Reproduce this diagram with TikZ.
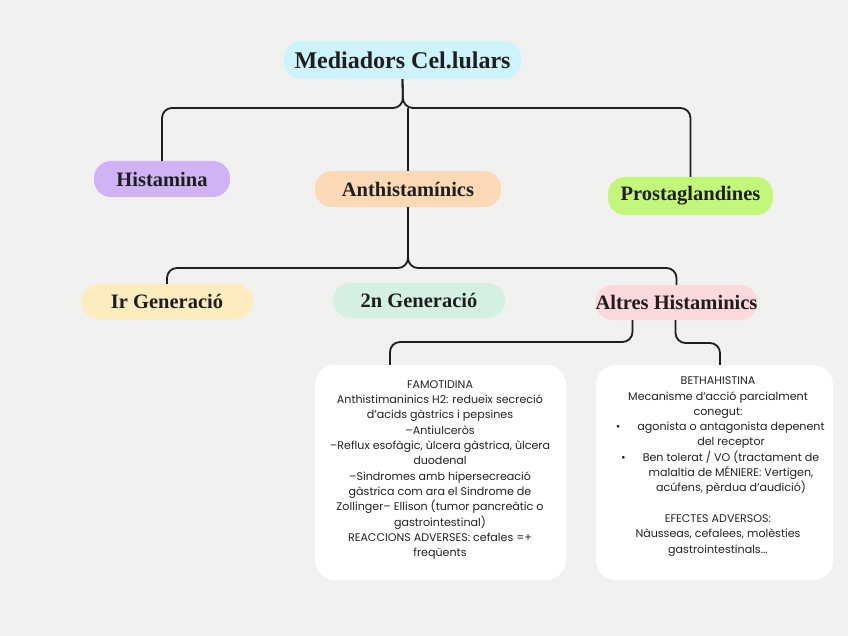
\documentclass[tikz,border=0pt]{standalone}
\usepackage{fontspec}
\setmainfont{Poppins}
\newfontfamily\headfont{Liberation Serif}
\definecolor{bg}{HTML}{F1F1F0}
\definecolor{cmed}{HTML}{CDF3FD}
\definecolor{chist}{HTML}{D0B3F5}
\definecolor{canth}{HTML}{FDD9B5}
\definecolor{cprost}{HTML}{C3F77A}
\definecolor{cir}{HTML}{FDECC0}
\definecolor{cdos}{HTML}{D4F0E0}
\definecolor{calt}{HTML}{FDD9DE}
\definecolor{ink}{HTML}{1E1E1E}
\definecolor{body}{HTML}{222222}
\tikzset{
  head/.style={rounded corners=17pt, inner sep=0pt, text=ink,
    font=\headfont\bfseries\fontsize{20.5}{22}\selectfont},
  conn/.style={draw=ink, line width=1.8pt, rounded corners=10pt},
  infobox/.style={fill=white, rounded corners=20pt, inner sep=0pt},
  infotext/.style={align=center, text=body, inner sep=0pt,
    font=\fontsize{11.1}{15.3}\selectfont}
}
\begin{document}
\begin{tikzpicture}[x=1pt,y=-1pt]
\fill[bg] (0,0) rectangle (848,636);
\useasboundingbox (0,0) rectangle (848,636);

\node[head, fill=cmed, minimum width=237pt, minimum height=38pt,
  font=\headfont\bfseries\fontsize{24}{26}\selectfont] (med) at (402.5,60) {Mediadors Cel.lulars};
\node[head, fill=chist, minimum width=136pt, minimum height=36pt] (hist) at (162,179) {Histamina};
\node[head, fill=canth, minimum width=186pt, minimum height=36pt] (anth) at (408,189) {Anthistamínics};
\node[head, fill=cprost, minimum width=165pt, minimum height=38pt] (prost) at (690.5,196) {Prostaglandines};
\node[head, fill=cir, minimum width=172pt, minimum height=35pt] (ir) at (167,301.5) {Ir Generació};
\node[head, fill=cdos, minimum width=172pt, minimum height=35pt] (dos) at (419,300.5) {2n Generació};
\node[head, fill=calt, minimum width=161pt, minimum height=35pt] (alt) at (676.5,302.5) {Altres Histaminics};

\node[infobox, minimum width=251pt, minimum height=215pt] (famo) at (440.5,472.5) {};
\node[infobox, minimum width=237pt, minimum height=215pt] (beth) at (714.5,472.5) {};

\node[infotext] (famot) at (440,470) {FAMOTIDINA\\
Anthistimaninics H2: redueix secreció\\
d’acids gàstrics i pepsines\\
–Antiulceròs\\
–Reflux esofàgic, ùlcera gàstrica, ùlcera\\
duodenal\\
–Sindromes amb hipersecreació\\
gàstrica com ara el Sindrome de\\
Zollinger– Ellison (tumor pancreàtic o\\
gastrointestinal)\\
REACCIONS ADVERSES: cefales =+\\
freqüents};

\node[infotext] (betht) at (718,466.5) {BETHAHISTINA\\
Mecanisme d’acció parcialment\\
conegut:\\
\hspace*{26pt}\llap{\textbullet\hspace{17pt}}agonista o antagonista depenent\\
\hspace*{26pt}del receptor\\
\hspace*{26pt}\llap{\textbullet\hspace{17pt}}Ben tolerat / VO (tractament de\\
\hspace*{26pt}malaltia de MÉNIERE: Vertigen,\\
\hspace*{26pt}acúfens, pèrdua d’audició)\\[15.3pt]
EFECTES ADVERSOS:\\
Nàusseas, cefalees, molèsties\\
gastrointestinals...};

\coordinate (j1) at (403,108);
\draw[conn] (hist.north) |- (j1) -- (med.south);
\draw[conn] (prost.north) |- (j1) -- (med.south);
\draw[conn] (anth.north) -- (anth.north |- j1);

\coordinate (j2) at (408,268);
\draw[conn] (ir.north) |- (j2) -- (anth.south);
\draw[conn] (alt.north) |- (j2) -- (anth.south);

\coordinate (b1) at (390,342);
\coordinate (b2) at (720,343);
\draw[conn] ([xshift=-44pt]alt.south) |- (b1) -- (b1 |- famo.north);
\draw[conn] ([xshift=-1pt]alt.south) |- (b2) -- (b2 |- beth.north);
\end{tikzpicture}
\end{document}
